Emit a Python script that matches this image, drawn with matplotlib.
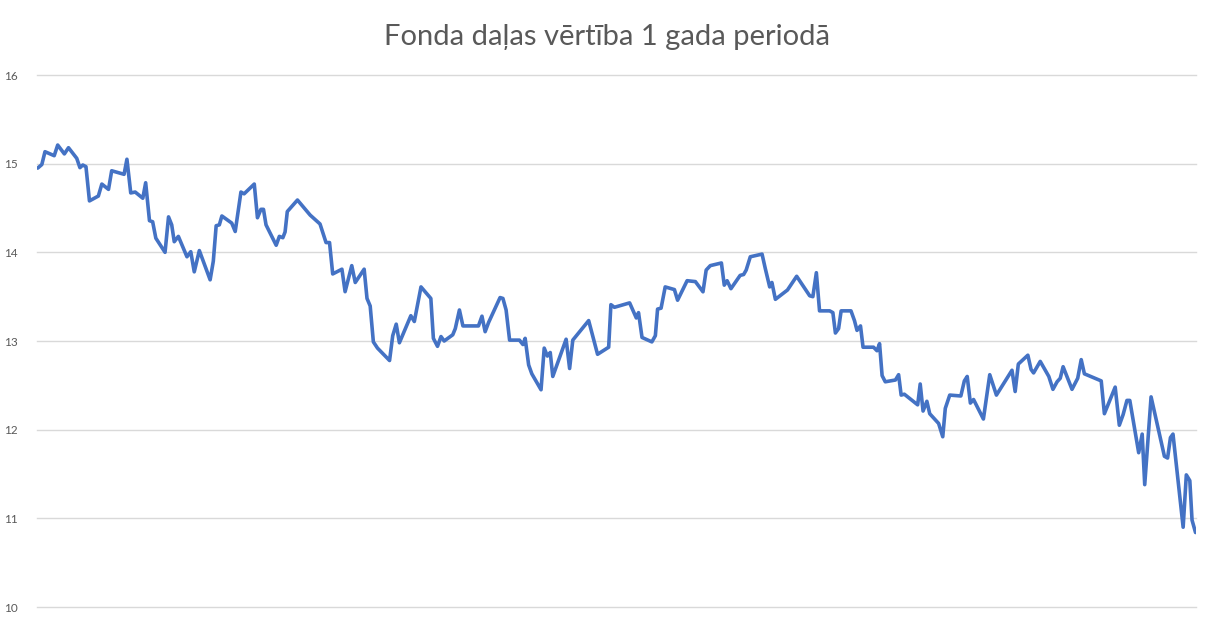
import matplotlib
matplotlib.use("Agg")
import matplotlib.pyplot as plt

# Day offsets within the one-year period
days = [0.2, 1.5, 2.5, 5.4, 6.5, 8.6, 9.9, 12.5, 13.5, 14.4, 15.4, 16.5, 19.3, 20.4, 22.5, 23.5,
        27.4, 28.3, 29.5, 30.9, 33.3, 34.2, 35.4, 36.4, 37.4, 40.3, 41.4, 42.4, 43.2, 44.5,
        47.2, 48.4, 49.5, 51.1, 54.5, 55.5, 56.4, 57.4, 58.2, 61.3, 62.4, 64.2, 65.2, 68.4,
        69.4, 70.5, 71.3, 72.1, 75.3, 76.3, 77.4, 78.1, 78.8, 82.0, 86.0, 89.1, 91.0, 92.1,
        93.1, 96.0, 97.0, 99.1, 100.2, 103.0, 103.9, 104.9, 105.9, 107.2, 111.0, 112.0, 113.1,
        114.1, 117.7, 118.8, 120.9, 124.0, 124.8, 126.1, 127.2, 128.2, 130.9, 131.7, 133.0,
        134.1, 139.0, 140.1, 141.1, 142.2, 145.8, 146.7, 147.7, 148.8, 151.9, 153.0, 153.7,
        154.8, 155.8, 158.7, 159.7, 160.7, 161.6, 162.4, 166.6, 167.7, 168.7, 173.7, 176.5,
        180.0, 180.7, 181.8, 186.6, 188.7, 189.4, 190.5, 193.6, 194.7, 195.4, 196.5, 197.8,
        200.7, 201.7, 204.7, 207.3, 209.7, 210.7, 212.0, 215.5, 216.4, 217.3, 218.5, 221.4,
        222.5, 223.3, 224.6, 228.3, 229.3, 230.7, 231.4, 232.5, 236.3, 239.2, 243.3, 244.3,
        245.4, 246.4, 249.6, 250.6, 251.4, 252.4, 253.2, 256.3, 257.4, 258.2, 259.3, 260.1,
        263.4, 264.5, 265.3, 266.1, 267.1, 270.3, 271.3, 272.1, 273.1, 277.3, 278.1, 279.0,
        280.2, 281.1, 283.9, 285.2, 286.0, 287.4, 290.9, 292.0, 292.9, 293.9, 294.9, 298.0,
        300.0, 302.1, 307.0, 308.0, 309.0, 312.0, 313.0, 313.8, 315.9, 318.6, 319.9, 321.2,
        322.2, 323.1, 325.9, 327.7, 328.8, 329.8, 335.1, 336.1, 339.5, 340.8, 342.0, 343.2,
        344.1, 346.9, 348.0, 348.8, 350.8, 355.0, 356.0, 356.9, 357.7, 360.9, 361.9, 363.0,
        363.7, 364.8]

# Fund unit value
values = [14.95, 14.99, 15.135, 15.09, 15.21, 15.11, 15.18, 15.06, 14.955, 14.985, 14.966, 14.58,
          14.635, 14.77, 14.71, 14.92, 14.88, 15.05, 14.67, 14.68, 14.61, 14.785, 14.357, 14.345,
          14.16, 14.0, 14.40, 14.31, 14.12, 14.18, 13.95, 14.007, 13.78, 14.02, 13.69, 13.90,
          14.30, 14.31, 14.41, 14.33, 14.235, 14.68, 14.66, 14.77, 14.39, 14.485, 14.485, 14.31,
          14.08, 14.18, 14.165, 14.23, 14.46, 14.59, 14.42, 14.32, 14.11, 14.11, 13.756, 13.81,
          13.556, 13.85, 13.66, 13.81, 13.48, 13.395, 12.99, 12.92, 12.78, 13.06, 13.19, 12.98,
          13.285, 13.22, 13.61, 13.48, 13.03, 12.94, 13.05, 13.00, 13.07, 13.14, 13.35, 13.17,
          13.17, 13.28, 13.105, 13.21, 13.49, 13.48, 13.35, 13.01, 13.01, 12.96, 13.03, 12.73,
          12.63, 12.45, 12.92, 12.83, 12.87, 12.60, 13.02, 12.69, 13.01, 13.23, 12.85, 12.93,
          13.41, 13.38, 13.43, 13.26, 13.32, 13.04, 12.99, 13.06, 13.36, 13.37, 13.61, 13.58,
          13.46, 13.68, 13.67, 13.555, 13.80, 13.85, 13.88, 13.63, 13.68, 13.59, 13.74, 13.75,
          13.80, 13.95, 13.98, 13.82, 13.61, 13.66, 13.47, 13.575, 13.73, 13.51, 13.50, 13.77,
          13.34, 13.34, 13.32, 13.09, 13.14, 13.34, 13.34, 13.23, 13.12, 13.17, 12.93, 12.93,
          12.89, 12.97, 12.61, 12.54, 12.56, 12.62, 12.39, 12.40, 12.28, 12.515, 12.21, 12.32,
          12.18, 12.07, 11.92, 12.24, 12.39, 12.38, 12.55, 12.60, 12.30, 12.34, 12.12, 12.62,
          12.39, 12.67, 12.43, 12.74, 12.84, 12.68, 12.64, 12.77, 12.60, 12.455, 12.54, 12.58,
          12.71, 12.455, 12.58, 12.79, 12.63, 12.55, 12.18, 12.48, 12.05, 12.17, 12.33, 12.33,
          11.74, 11.95, 11.38, 12.37, 11.70, 11.68, 11.91, 11.95, 10.90, 11.49, 11.425, 10.98,
          10.84]

y_ticks = [10, 11, 12, 13, 14, 15, 16]
title = "Fonda daļas vērtība 1 gada periodā"

plt.rcParams['font.family'] = ['Lato', 'DejaVu Sans']

fig = plt.figure(figsize=(12.15, 6.25), dpi=100)
ax = fig.add_axes([0.0305, 0.0288, 0.954, 0.8512])

ax.plot(days, values, color="#4472C4", linewidth=2.6, solid_joinstyle="round",
        solid_capstyle="round")

ax.set_xlim(0, 365)
ax.set_ylim(10, 16)
ax.set_yticks(y_ticks)
ax.set_yticklabels([str(t) for t in y_ticks])
ax.set_xticks([])
ax.yaxis.grid(True, color="#D9D9D9", linewidth=1.0)
for gl in ax.get_ygridlines():
    gl.set_clip_on(False)
ax.set_axisbelow(True)
for s in ax.spines.values():
    s.set_visible(False)
ax.tick_params(axis="y", length=0, pad=14, labelsize=8.5, labelcolor="#595959")

fig.text(0.5, 1 - 37 / 625, title, ha="center", va="center", fontsize=21, color="#595959")

fig.savefig("out.png", dpi=100, facecolor="white")
